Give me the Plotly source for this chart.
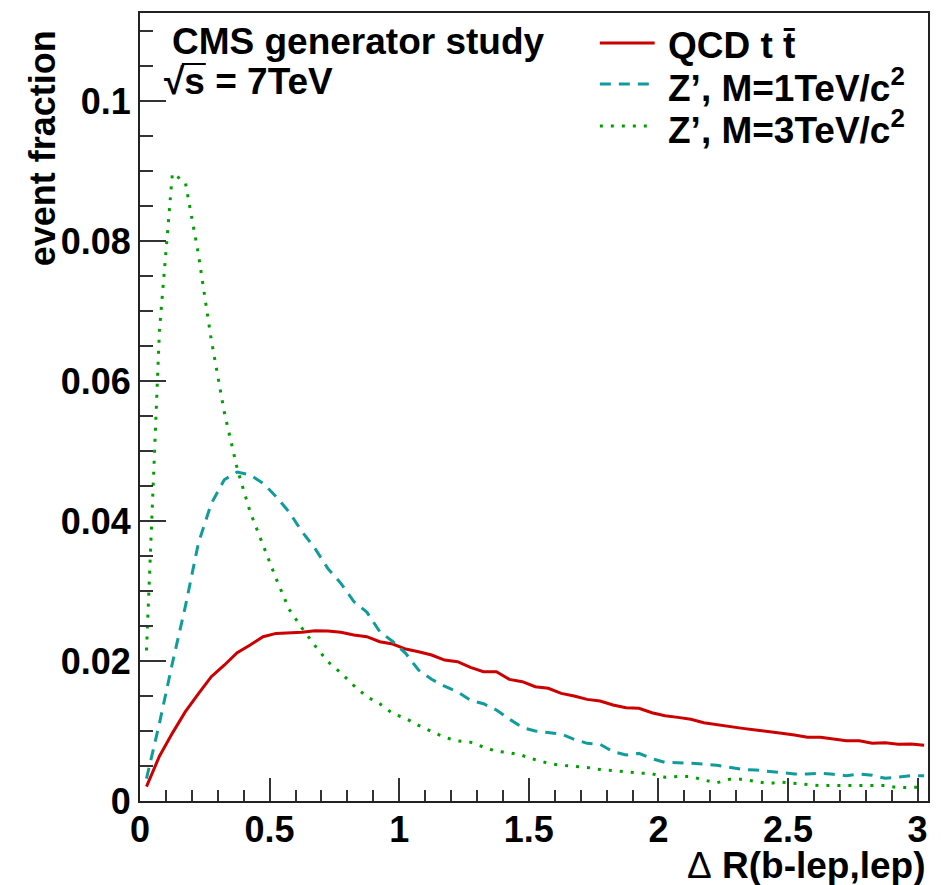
import plotly.graph_objects as go

# Delta R bin centres (bin width 0.05)
dr_bins = [0.025, 0.075, 0.125, 0.175, 0.225, 0.275, 0.325, 0.375, 0.425, 0.475,
           0.525, 0.575, 0.625, 0.675, 0.725, 0.775, 0.825, 0.875, 0.925, 0.975,
           1.025, 1.075, 1.125, 1.175, 1.225, 1.275, 1.325, 1.375, 1.425, 1.475,
           1.525, 1.575, 1.625, 1.675, 1.725, 1.775, 1.825, 1.875, 1.925, 1.975,
           2.025, 2.075, 2.125, 2.175, 2.225, 2.275, 2.325, 2.375, 2.425, 2.475,
           2.525, 2.575, 2.625, 2.675, 2.725, 2.775, 2.825, 2.875, 2.925, 2.975,
           3.025]

qcd_ttbar = [0.00205, 0.0064, 0.0097, 0.01276, 0.0153, 0.01776, 0.0194, 0.0212, 0.0223, 0.02348,
             0.02395, 0.0240, 0.0241, 0.02433, 0.0243, 0.0241, 0.02371, 0.02348, 0.02276, 0.02243,
             0.02171, 0.02133, 0.02086, 0.02014, 0.0199, 0.0191, 0.01848, 0.01848, 0.01738, 0.01705,
             0.01633, 0.0161, 0.01538, 0.0150, 0.01452, 0.01429, 0.01371, 0.01333, 0.01324, 0.01262,
             0.01219, 0.01195, 0.01167, 0.01119, 0.0109, 0.01062, 0.01038, 0.01014, 0.00986, 0.00967,
             0.00943, 0.0091, 0.0091, 0.00886, 0.00862, 0.00862, 0.00824, 0.00833, 0.0081, 0.00814,
             0.00795]

zprime_1tev = [0.0032, 0.0111, 0.0197, 0.0278, 0.0368, 0.0425, 0.0459, 0.0470, 0.0466, 0.0454,
               0.0435, 0.0413, 0.0385, 0.0361, 0.0332, 0.0311, 0.0285, 0.0270, 0.0242, 0.0228,
               0.0211, 0.0187, 0.0174, 0.0164, 0.0156, 0.0144, 0.0139, 0.0130, 0.0117, 0.0105,
               0.0100, 0.00976, 0.00957, 0.00881, 0.00824, 0.0081, 0.00705, 0.00657, 0.0068, 0.00605,
               0.00552, 0.00548, 0.00543, 0.00529, 0.0051, 0.00486, 0.00452, 0.00443, 0.00424, 0.0040,
               0.00386, 0.00386, 0.00395, 0.00381, 0.00362, 0.00386, 0.00367, 0.00324, 0.00348, 0.00362,
               0.00362]

zprime_3tev = [0.0215, 0.0672, 0.0897, 0.0884, 0.0782, 0.0659, 0.0556, 0.0475, 0.0413, 0.0365,
               0.0318, 0.0274, 0.0247, 0.0222, 0.0199, 0.0183, 0.0165, 0.0149, 0.0139, 0.0125,
               0.0118, 0.0108, 0.0099, 0.0091, 0.0086, 0.0084, 0.0077, 0.0071, 0.0069, 0.0065,
               0.0059, 0.0054, 0.0051, 0.0050, 0.0048, 0.0045, 0.0043, 0.0041, 0.0040, 0.0039,
               0.0034, 0.0035, 0.0035, 0.0030, 0.0026, 0.0031, 0.0031, 0.0028, 0.0025, 0.0027,
               0.0025, 0.0024, 0.0022, 0.0022, 0.0022, 0.0022, 0.0023, 0.0022, 0.0019, 0.0019,
               0.0020]

x_ticks = [0, 0.5, 1, 1.5, 2, 2.5, 3]
x_tick_labels = ["0", "0.5", "1", "1.5", "2", "2.5", "3"]
y_ticks = [0, 0.02, 0.04, 0.06, 0.08, 0.1]
y_tick_labels = ["0", "0.02", "0.04", "0.06", "0.08", "0.1"]

series = [
    ("QCD t t\u0304", qcd_ttbar, "#cc0000", "solid"),
    ("Z\u2019, M=1TeV/c<sup>2</sup>", zprime_1tev, "#109c9c", "11px,8px"),
    ("Z\u2019, M=3TeV/c<sup>2</sup>", zprime_3tev, "#00a000", "3px,8px"),
]

FONT = "Liberation Sans"
TXT = dict(family=FONT, size=37, color="black", weight="bold")
W, H = 941, 885
L, R, T, B = 140, 11, 13, 84
PW, PH = W - L - R, H - T - B


def px_x(p):
    return (p - L) / PW


def px_y(p):
    return (H - B - p) / PH


fig = go.Figure()
for name, vals, color, dash in series:
    fig.add_trace(go.Scatter(x=dr_bins, y=vals, mode="lines", name=name,
                             line=dict(color=color, width=3, dash=dash),
                             showlegend=False))

annotations = []
shapes = []

# legend block
leg_rows = [43, 84, 126]
for (name, vals, color, dash), yrow in zip(series, leg_rows):
    shapes.append(dict(type="line", xref="paper", yref="paper",
                       x0=px_x(601), x1=px_x(656), y0=px_y(yrow), y1=px_y(yrow),
                       line=dict(color=color, width=3, dash=dash)))
    annotations.append(dict(text=name, xref="paper", yref="paper",
                            x=px_x(667), y=px_y(yrow + 2), xanchor="left", yanchor="middle",
                            showarrow=False, font=TXT))

annotations.append(dict(text="CMS generator study", xref="paper", yref="paper",
                        x=px_x(170), y=px_y(41), xanchor="left", yanchor="middle",
                        showarrow=False, font=TXT))
annotations.append(dict(text="\u221as = 7TeV", xref="paper", yref="paper",
                        x=px_x(162), y=px_y(81), xanchor="left", yanchor="middle",
                        showarrow=False, font=TXT))
# overbar of the square root
shapes.append(dict(type="line", xref="paper", yref="paper",
                   x0=px_x(182), x1=px_x(206), y0=px_y(64), y1=px_y(64),
                   line=dict(color="black", width=2)))

# axis titles
annotations.append(dict(text="event fraction", xref="paper", yref="paper",
                        x=px_x(42), y=px_y(28), xanchor="center", yanchor="top",
                        textangle=-90, showarrow=False,
                        font=dict(family=FONT, size=36, color="black", weight="bold")))
annotations.append(dict(text="<span style='font-weight:normal'>\u0394</span> R(b-lep,lep)",
                        xref="paper", yref="paper",
                        x=px_x(929), y=px_y(865), xanchor="right", yanchor="middle",
                        showarrow=False, font=TXT))

fig.update_layout(
    width=W, height=H,
    margin=dict(l=L, r=R, t=T, b=B),
    paper_bgcolor="white", plot_bgcolor="white",
    annotations=annotations, shapes=shapes,
    font=TXT,
)

fig.update_xaxes(
    range=[0, 3.04], tickvals=x_ticks, ticktext=x_tick_labels,
    ticks="inside", ticklen=23, tickwidth=1.5, tickcolor="#333",
    minor=dict(ticks="inside", ticklen=11, dtick=0.1, tick0=0, tickwidth=1.5, tickcolor="#333"),
    showline=True, linecolor="#222", linewidth=2, mirror=True,
    showgrid=False, zeroline=False, ticklabelstandoff=-4,
    tickfont=dict(family=FONT, size=36, color="black", weight="bold"),
)
fig.update_yaxes(
    range=[0, 0.1126], tickvals=y_ticks, ticktext=y_tick_labels,
    ticks="inside", ticklen=26, tickwidth=1.5, tickcolor="#333",
    minor=dict(ticks="inside", ticklen=13, dtick=0.005, tick0=0, tickwidth=1.5, tickcolor="#333"),
    showline=True, linecolor="#222", linewidth=2, mirror=True,
    showgrid=False, zeroline=False,
    tickfont=dict(family=FONT, size=36, color="black", weight="bold"),
)

fig.write_html("out.html")
